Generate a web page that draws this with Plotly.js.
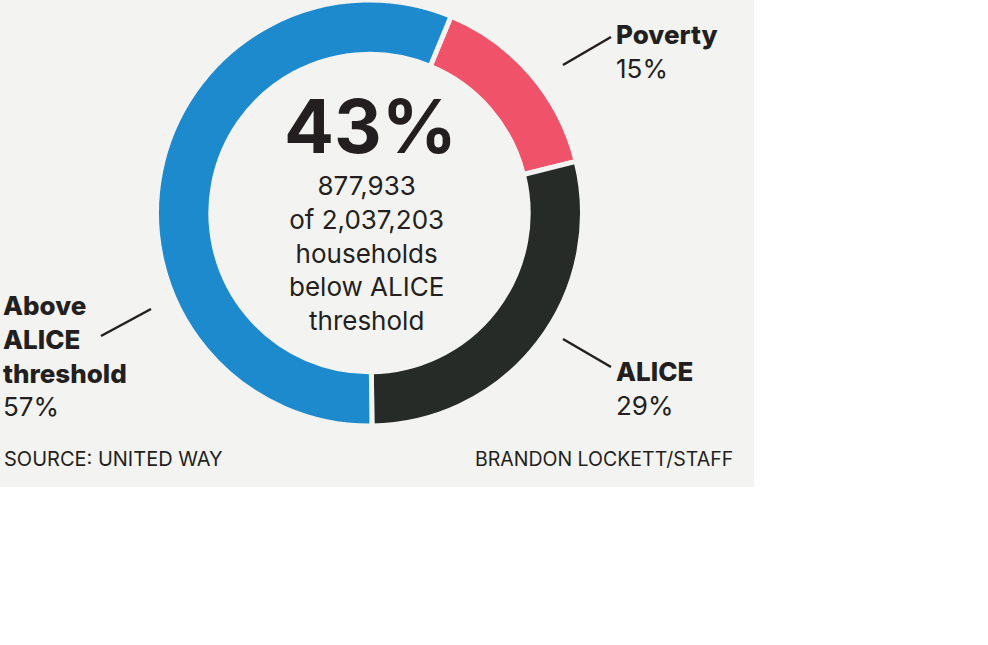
<!DOCTYPE html>
<html>
<head>
<meta charset="utf-8">
<script src="https://cdn.plot.ly/plotly-3.0.1.min.js"></script>
<style>
  body { margin: 0; background: #ffffff; }
  #grafica { width: 754px; height: 487px; }
</style>
</head>
<body>
<div id="grafica"></div>
<script>
// Datos del gráfico
const categorias = ["Poverty", "ALICE", "Above ALICE threshold"];
const porcentajes = [15, 29, 57];
const colores = ["#f0526a", "#272b28", "#1e8ace"];
const nombres = ["Poverty", "ALICE", "Above<br>ALICE<br>threshold"];
const textosPct = ["15%", "29%", "57%"];
const totalPorcentaje = "43%";
const textoCentral = ["877,933", "of 2,037,203", "households", "below ALICE", "threshold"];
const fuente = "SOURCE: UNITED WAY";
const credito = "BRANDON LOCKETT/STAFF";

const W = 754, H = 487;
const fondo = "#f3f3f1";
const tinta = "#231f20";
const letra = "Inter, 'Libre Franklin', Roboto, sans-serif";

// pasar pixeles a coordenadas de papel
function px(x) { return x / W; }
function py(y) { return 1 - y / H; }

// etiqueta: nombre en negrita pesada y porcentaje normal
function etiqueta(i) {
    return "<span style='font-weight:800'>" + nombres[i] + "</span><br>" + textosPct[i];
}

const cx = 369.5, cy = 213, radio = 213;

const dona = {
    type: "pie",
    labels: categorias,
    values: porcentajes,
    sort: false,
    direction: "clockwise",
    rotation: 22.5,
    hole: 0.745,
    textinfo: "none",
    hoverinfo: "label+percent",
    showlegend: false,
    marker: { colors: colores, line: { color: fondo, width: 5 } },
    domain: { x: [px(cx - radio), px(cx + radio)], y: [py(cy + radio), py(cy - radio)] }
};

const anotaciones = [
    // número grande del centro
    { x: px(370), y: py(126), text: "<b>" + totalPorcentaje + "</b>",
      font: { size: 74, color: tinta, family: letra, weight: 900 } },
    { x: px(366), y: py(253), text: textoCentral.join("<br>"),
      font: { size: 26, color: tinta, family: letra } },
    // etiquetas de los segmentos
    { x: px(614), y: py(51), xanchor: "left", align: "left", text: etiqueta(0),
      font: { size: 26, color: tinta, family: letra } },
    { x: px(614), y: py(388), xanchor: "left", align: "left", text: etiqueta(1),
      font: { size: 26, color: tinta, family: letra } },
    { x: px(1), y: py(356), xanchor: "left", align: "left", text: etiqueta(2),
      font: { size: 26, color: tinta, family: letra } },
    // pie de gráfico
    { x: px(2), y: py(459), xanchor: "left", text: fuente,
      font: { size: 20, color: tinta, family: letra } },
    { x: px(735), y: py(459), xanchor: "right", text: credito,
      font: { size: 19.5, color: tinta, family: letra } }
].map(a => Object.assign({ xref: "paper", yref: "paper", showarrow: false, yanchor: "middle" }, a));

// líneas guía hacia las etiquetas
const guias = [
    [563, 65, 611, 37],
    [563, 339, 611, 367],
    [101, 336, 151, 309]
].map(g => ({
    type: "line", xref: "paper", yref: "paper",
    x0: px(g[0]), y0: py(g[1]), x1: px(g[2]), y1: py(g[3]),
    line: { color: tinta, width: 2.5 }
}));

const layout = {
    width: W,
    height: H,
    margin: { l: 0, r: 0, t: 0, b: 0 },
    paper_bgcolor: fondo,
    plot_bgcolor: fondo,
    annotations: anotaciones,
    shapes: guias
};

Plotly.newPlot("grafica", [dona], layout, { displayModeBar: false, staticPlot: true });
</script>
</body>
</html>
